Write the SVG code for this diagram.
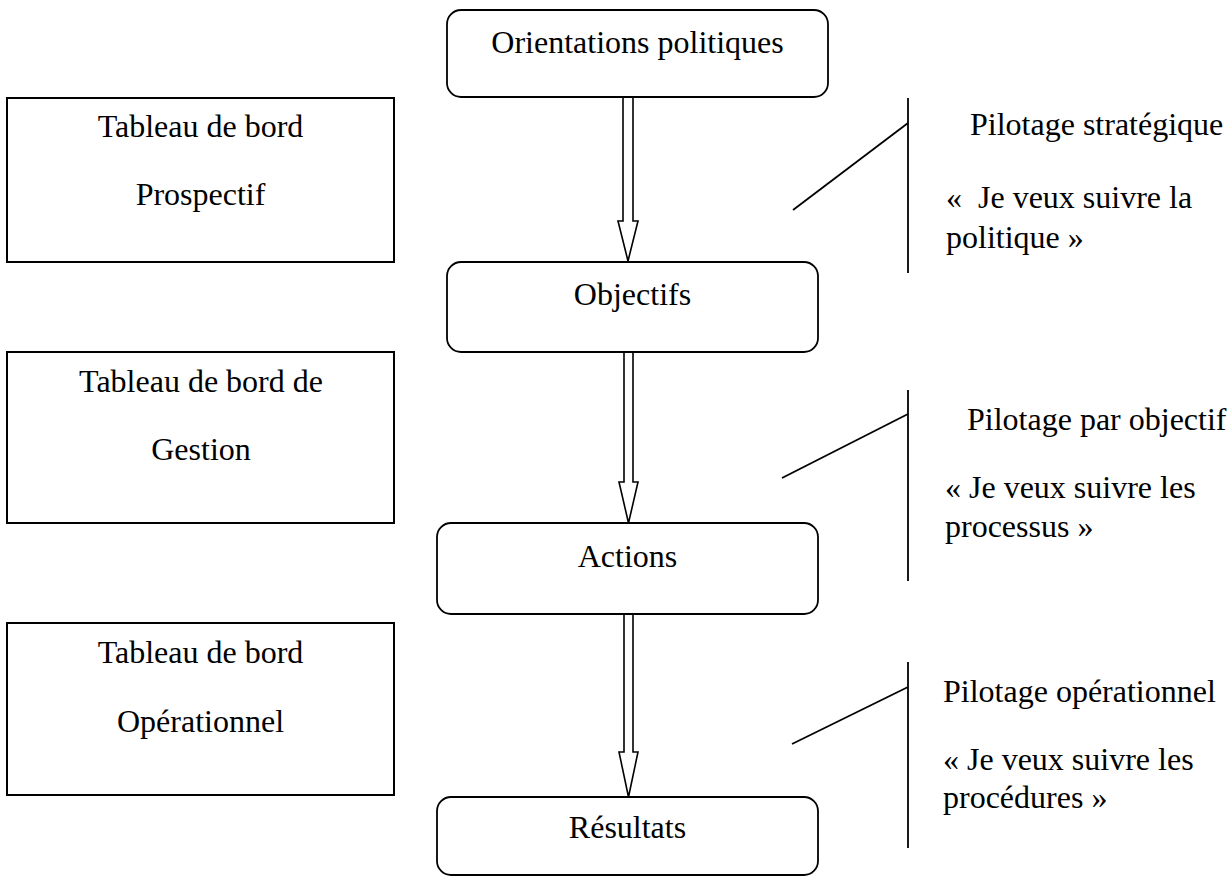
<svg xmlns="http://www.w3.org/2000/svg" width="1229" height="877" viewBox="0 0 1229 877">
<style>
.box{fill:#fff;stroke:#000;stroke-width:2}
.rbox{fill:#fff;stroke:#000;stroke-width:1.8}
.t{font-family:"Liberation Serif","Times New Roman",serif;font-size:32px;fill:#000}
.c{text-anchor:middle}
.ln{stroke:#000;stroke-width:1.8;fill:none}
.arr{fill:#fff;stroke:#000;stroke-width:1.6;stroke-linejoin:miter}
</style>
<rect width="1229" height="877" fill="#fff"/>
<g id="connectors">
<path class="arr" d="M623,97 V221 H618 L628,261 L638,221 H633 V97"/>
<path class="arr" d="M624,352 V482 H619 L628.5,523 L638,482 H633 V352"/>
<path class="arr" d="M624,614 V752 H619 L628.5,797 L638,752 H633 V614"/>
<line class="ln" x1="908" y1="98" x2="908" y2="273"/>
<line class="ln" x1="793" y1="210" x2="908" y2="123"/>
<line class="ln" x1="908" y1="390" x2="908" y2="581"/>
<line class="ln" x1="782" y1="478" x2="908" y2="414"/>
<line class="ln" x1="908" y1="662" x2="908" y2="848"/>
<line class="ln" x1="792" y1="744" x2="908" y2="687"/>
</g>
<g id="n-orientations">
<rect class="rbox" x="447" y="10" width="381" height="87" rx="14"/>
<text class="t c" x="637.5" y="53">Orientations politiques</text>
</g>
<g id="n-objectifs">
<rect class="rbox" x="447" y="262" width="371" height="90" rx="14"/>
<text class="t c" x="632.5" y="305">Objectifs</text>
</g>
<g id="n-actions">
<rect class="rbox" x="437" y="523" width="381" height="91" rx="14"/>
<text class="t c" x="627.5" y="567">Actions</text>
</g>
<g id="n-resultats">
<rect class="rbox" x="437" y="797" width="381" height="78" rx="14"/>
<text class="t c" x="627.5" y="838">Résultats</text>
</g>
<g id="n-tb-prospectif">
<rect class="box" x="7" y="98" width="387" height="164"/>
<text class="t c" x="200.5" y="137">Tableau de bord</text>
<text class="t c" x="200.5" y="205">Prospectif</text>
</g>
<g id="n-tb-gestion">
<rect class="box" x="7" y="352" width="387" height="171"/>
<text class="t c" x="201" y="392">Tableau de bord de</text>
<text class="t c" x="201" y="460">Gestion</text>
</g>
<g id="n-tb-operationnel">
<rect class="box" x="7" y="623" width="387" height="172"/>
<text class="t c" x="200.5" y="663">Tableau de bord</text>
<text class="t c" x="200.5" y="732">Opérationnel</text>
</g>
<g id="n-pilotage-strategique">
<text class="t" x="970" y="135">Pilotage stratégique</text>
<text class="t" x="946" y="208" xml:space="preserve">«  Je veux suivre la</text>
<text class="t" x="946" y="248">politique »</text>
</g>
<g id="n-pilotage-objectif">
<text class="t" x="967" y="430">Pilotage par objectif</text>
<text class="t" x="945" y="498">« Je veux suivre les</text>
<text class="t" x="945" y="537">processus »</text>
</g>
<g id="n-pilotage-operationnel">
<text class="t" x="943" y="702">Pilotage opérationnel</text>
<text class="t" x="943" y="770">« Je veux suivre les</text>
<text class="t" x="943" y="808">procédures »</text>
</g>
</svg>
